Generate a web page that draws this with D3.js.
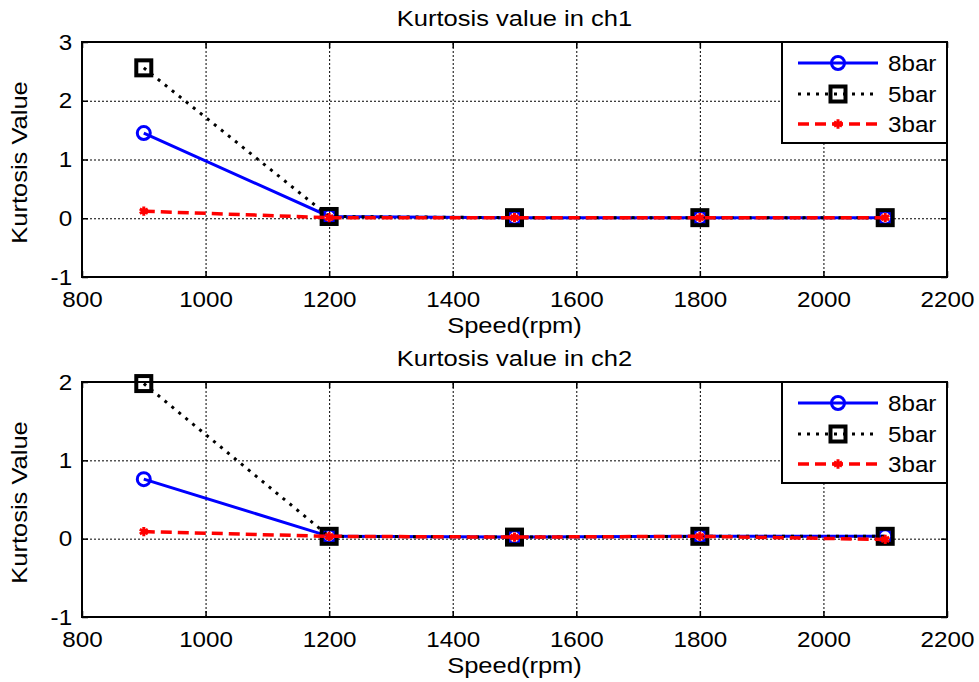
<!DOCTYPE html>
<html>
<head>
<meta charset="utf-8">
<script src="https://cdn.jsdelivr.net/npm/d3@7"></script>
<style>
  body { margin: 0; background: #fff; }
  text { font-family: 'Liberation Sans', Arial, sans-serif; fill: #000; }
</style>
</head>
<body>
<div id="chart"></div>
<script>
var speeds = [900, 1200, 1500, 1800, 2100];
var xTicks = [800, 1000, 1200, 1400, 1600, 1800, 2000, 2200];
var seriesNames = ['8bar', '5bar', '3bar'];

var ch1_8bar = [1.45, 0.03, 0.01, 0.01, 0.01];
var ch1_5bar = [2.56, 0.03, 0.01, 0.01, 0.01];
var ch1_3bar = [0.12, 0.01, 0.01, 0.01, 0.01];
var ch1_yTicks = [-1, 0, 1, 2, 3];

var ch2_8bar = [0.76, 0.03, 0.02, 0.03, 0.03];
var ch2_5bar = [1.98, 0.03, 0.02, 0.03, 0.03];
var ch2_3bar = [0.09, 0.03, 0.02, 0.03, -0.01];
var ch2_yTicks = [-1, 0, 1, 2];

var titles = ['Kurtosis value in ch1', 'Kurtosis value in ch2'];
var xLabel = 'Speed(rpm)';
var yLabel = 'Kurtosis Value';

var fullWidth = 979;
var fullHeight = 682;
var left = 82;
var width = 865;
var height = 235;
var fontSize = 22;
var sx = 1.1;       // text in the picture is a little wide
var labelSx = 1.16;

var styles = {
  '8bar': {color: '#0000ff', width: 3, dash: null, marker: 'circle'},
  '5bar': {color: '#000000', width: 3, dash: '3,6', marker: 'square'},
  '3bar': {color: '#ff0000', width: 3.5, dash: '11,6', marker: 'star'}
};

var svg = d3.select('#chart').append('svg')
  .attr('width', fullWidth)
  .attr('height', fullHeight);

function addMarker(g, type, cx, cy) {
  var st = styles[type];
  if (st.marker == 'circle') {
    g.append('circle')
      .attr('cx', cx).attr('cy', cy).attr('r', 6.5)
      .style('fill', 'none').style('stroke', st.color).style('stroke-width', 3);
  } else if (st.marker == 'square') {
    g.append('rect')
      .attr('x', cx - 7.5).attr('y', cy - 7.5)
      .attr('width', 15).attr('height', 15)
      .style('fill', 'none').style('stroke', st.color).style('stroke-width', 4);
  } else {
    g.append('path')
      .attr('transform', 'translate(' + cx + ',' + cy + ')')
      .attr('d', d3.symbol(d3.symbolAsterisk, 60)())
      .style('fill', 'none').style('stroke', st.color).style('stroke-width', 3);
  }
}

function plain(d) { return String(d); }

function drawPanel(top, title, yTicks, values) {
  var g = svg.append('g')
    .attr('transform', 'translate(' + left + ',' + top + ')');

  var x = d3.scaleLinear().domain([800, 2200]).range([0, width]);
  var y = d3.scaleLinear().domain([yTicks[0], yTicks[yTicks.length - 1]]).range([height, 0]);

  // dotted grid
  var gx = g.append('g')
    .attr('transform', 'translate(0,' + height + ')')
    .call(d3.axisBottom(x).tickValues(xTicks).tickSize(-height).tickFormat(''));
  var gy = g.append('g')
    .call(d3.axisLeft(y).tickValues(yTicks).tickSize(-width).tickFormat(''));
  [gx, gy].forEach(function(a) {
    a.select('.domain').remove();
    a.selectAll('line')
      .style('stroke', '#000').style('stroke-width', 1)
      .style('stroke-dasharray', '2,2');
  });

  // series
  var line = d3.line()
    .x(function(d) { return x(d[0]); })
    .y(function(d) { return y(d[1]); });

  seriesNames.forEach(function(name, i) {
    var st = styles[name];
    var pts = speeds.map(function(s, j) { return [s, values[i][j]]; });
    g.append('path')
      .datum(pts)
      .attr('d', line)
      .style('fill', 'none')
      .style('stroke', st.color)
      .style('stroke-width', st.width)
      .style('stroke-dasharray', st.dash);
    pts.forEach(function(p) {
      addMarker(g, name, x(p[0]), y(p[1]));
    });
  });

  // axes with inward ticks
  var xAxis = g.append('g')
    .attr('transform', 'translate(0,' + height + ')')
    .call(d3.axisBottom(x).tickValues(xTicks).tickFormat(plain)
      .tickSizeInner(-6).tickSizeOuter(0).tickPadding(14));
  var yAxis = g.append('g')
    .call(d3.axisLeft(y).tickValues(yTicks).tickFormat(plain)
      .tickSizeInner(-6).tickSizeOuter(0).tickPadding(9));
  g.append('g')
    .call(d3.axisTop(x).tickValues(xTicks).tickSizeInner(-6).tickSizeOuter(0).tickFormat(''));
  g.append('g')
    .attr('transform', 'translate(' + width + ',0)')
    .call(d3.axisRight(y).tickValues(yTicks).tickSizeInner(-6).tickSizeOuter(0).tickFormat(''));

  g.selectAll('.domain').remove();
  g.selectAll('.tick line').filter(function() {
    return this.style.strokeDasharray == '';
  }).style('stroke', '#000').style('stroke-width', 1.5);

  [xAxis, yAxis].forEach(function(a) {
    a.attr('font-size', fontSize).attr('font-family', null);
    a.selectAll('text').attr('transform', 'scale(' + sx + ',1)').style('fill', '#000');
  });

  g.append('rect')
    .attr('width', width).attr('height', height)
    .style('fill', 'none').style('stroke', '#000').style('stroke-width', 2);

  // labels
  g.append('text')
    .attr('transform', 'translate(' + width / 2 + ',-16) scale(' + labelSx + ',1)')
    .style('text-anchor', 'middle')
    .style('font-size', fontSize)
    .text(title);

  g.append('text')
    .attr('transform', 'translate(' + width / 2 + ',' + (height + 56) + ') scale(' + labelSx + ',1)')
    .style('text-anchor', 'middle')
    .style('font-size', fontSize)
    .text(xLabel);

  g.append('text')
    .attr('transform', 'translate(-55,' + (height / 2 + 3) + ') rotate(-90) scale(' + labelSx + ',1)')
    .style('text-anchor', 'middle')
    .style('font-size', fontSize)
    .text(yLabel);

  // legend
  var legend = g.append('g')
    .attr('class', 'legend')
    .attr('transform', 'translate(700,0)');

  legend.append('rect')
    .attr('width', 165)
    .attr('height', 101)
    .style('fill', '#fff')
    .style('stroke', '#000')
    .style('stroke-width', 2);

  var rowY = [21, 52, 82];
  seriesNames.forEach(function(name, i) {
    var st = styles[name];
    legend.append('line')
      .attr('x1', 16).attr('x2', 96)
      .attr('y1', rowY[i]).attr('y2', rowY[i])
      .style('stroke', st.color)
      .style('stroke-width', st.width)
      .style('stroke-dasharray', st.dash);
    addMarker(legend, name, 56, rowY[i]);
    legend.append('text')
      .attr('transform', 'translate(106,' + rowY[i] + ') scale(' + sx + ',1)')
      .attr('dy', '0.36em')
      .style('font-size', fontSize)
      .text(name);
  });
}

drawPanel(42, titles[0], ch1_yTicks, [ch1_8bar, ch1_5bar, ch1_3bar]);
drawPanel(382, titles[1], ch2_yTicks, [ch2_8bar, ch2_5bar, ch2_3bar]);
</script>
</body>
</html>
